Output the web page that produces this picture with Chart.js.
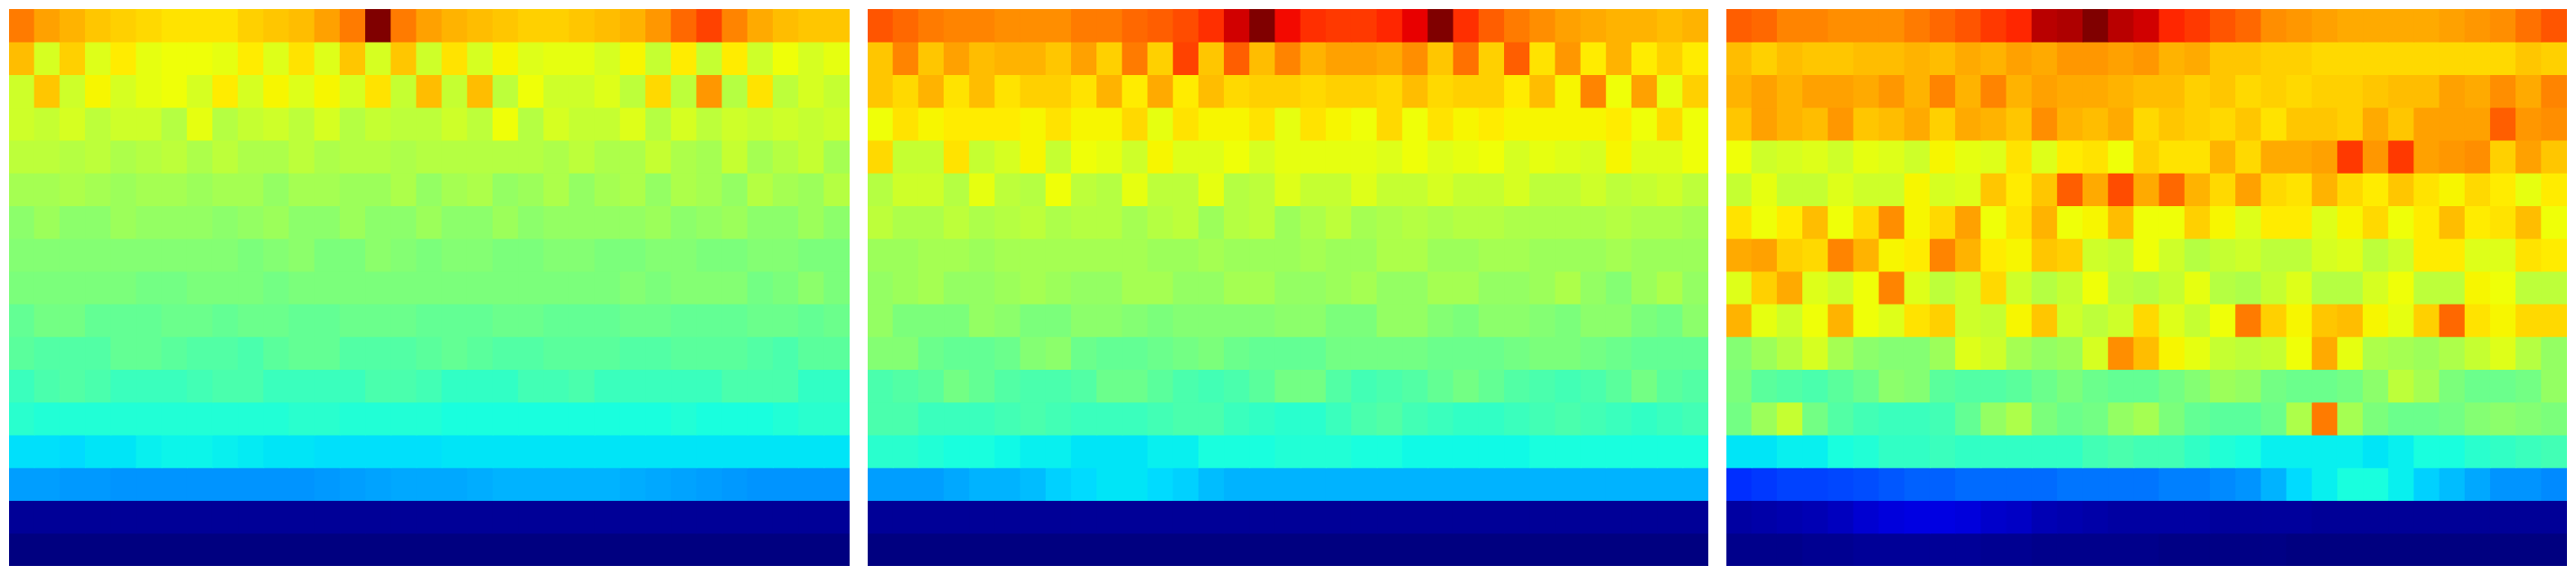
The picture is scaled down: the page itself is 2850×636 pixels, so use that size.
<!DOCTYPE html>
<html><head><meta charset="utf-8">
<script src="https://cdn.jsdelivr.net/npm/chart.js@4"></script>
<style>
html,body{margin:0;padding:0;background:#fff;width:2850px;height:636px;overflow:hidden}
canvas{position:absolute;top:10px;display:block}
</style></head>
<body>
<canvas id="c1" width="930" height="616" style="left:10px"></canvas>
<canvas id="c2" width="930" height="616" style="left:960px"></canvas>
<canvas id="c3" width="930" height="616" style="left:1910px"></canvas>
<script>
const panel1 = [
[78,74,72,70,69,68,67,67,67,69,70,71,74,78,100,78,74,72,71,70,69,69,70,71,72,75,80,84,77,73,71,70,70],
[71,61,69,62,66,63,64,64,63,66,62,67,62,70,61,70,60,67,61,65,62,63,63,61,65,59,66,59,66,60,64,61,63],
[60,70,60,65,61,63,64,61,66,61,65,62,65,61,67,59,71,59,71,58,64,60,60,62,58,68,58,75,57,67,58,61,59],
[60,59,61,58,60,60,57,63,57,59,60,58,61,57,59,58,58,60,58,64,57,61,59,59,62,57,61,58,60,59,60,59,60],
[58,58,57,58,56,57,58,56,58,56,56,58,56,57,57,56,57,57,57,57,57,56,58,56,56,59,56,55,59,55,57,59,55],
[55,55,56,55,54,55,55,54,55,55,53,55,55,54,54,56,53,55,56,53,54,56,53,55,56,53,56,55,53,57,55,54,57],
[52,54,52,52,54,53,53,53,52,53,54,52,52,54,52,52,54,52,52,54,52,53,53,53,53,54,52,53,54,52,52,54,52],
[51,51,51,51,51,51,51,51,51,50,51,52,50,50,52,51,50,51,51,50,50,51,51,50,50,51,51,50,50,51,51,50,50],
[50,50,50,50,50,49,49,50,50,50,49,50,50,50,50,50,50,50,50,50,50,50,50,50,51,50,51,51,51,49,50,52,50],
[47,49,49,47,47,47,48,48,47,48,48,47,47,48,48,48,47,47,47,48,48,47,47,47,48,48,47,47,47,48,48,47,48],
[46,45,45,45,47,47,46,45,45,44,46,47,47,45,45,45,46,47,46,45,45,46,46,46,45,45,46,46,46,45,44,46,46],
[42,44,45,44,42,42,42,43,44,44,42,42,42,42,44,44,43,41,41,41,43,43,44,42,42,42,42,42,44,44,44,41,41],
[40,39,39,39,39,39,39,39,39,39,39,40,40,39,39,39,39,38,38,38,38,38,38,38,38,38,39,38,38,38,39,40,40],
[34.5,34.5,34,35,35,36,36.5,36.5,36,35.5,35,35,34.5,34.5,34.5,34.5,34.5,35,35,35,35,35,35,35,35,35,35,35,35,35,35,35,35],
[28,28,27.5,27.5,27,27,27,27,27,27,27,27,27.5,28,28.5,29,29,29,29.5,30,30,30,30,30,29.5,29,28.5,28,27.5,27,27,27,27],
[2,2,2,2,2,2,2,2,2,2,2,2,2,2,2,2,2,2,2,2,2,2,2,2,2,2,2,2,2,2,2,2,2],
[0,0,0,0,0,0,0,0,0,0,0,0,0,0,0,0,0,0,0,0,0,0,0,0,0,0,0,0,0,0,0,0,0]
];
const panel2 = [
[82,80,78,77,77,76,76,76,78,78,80,81,83,86,93,100,90,86,85,85,87,91,100,86,81,78,76,74,73,72,72,71,72],
[70,77,70,74,71,72,72,70,74,69,78,69,84,70,81,71,77,72,74,74,73,76,70,79,69,81,67,75,66,72,66,69,66],
[70,68,72,67,71,67,69,69,67,72,66,73,66,71,68,69,69,68,69,69,68,71,68,69,69,66,71,65,77,64,74,63,69],
[64,67,65,66,66,66,65,67,65,65,68,63,67,65,65,67,63,67,65,64,68,64,67,65,66,65,65,65,65,66,64,68,64],
[68,59,59,67,59,61,65,59,64,63,60,65,62,62,64,61,63,63,63,63,62,64,62,63,64,61,63,62,61,65,62,62,64],
[57,60,60,57,63,58,57,64,58,57,63,58,58,63,57,58,62,59,59,62,59,59,61,59,59,61,58,58,60,58,59,60,58],
[58,56,56,58,56,57,58,56,57,57,55,57,58,54,57,58,54,56,58,55,56,57,56,57,57,56,56,56,56,57,56,56,55],
[54,54,55,55,54,55,55,55,55,55,55,54,54,55,54,54,54,55,54,54,56,56,54,54,55,55,54,54,54,55,54,54,54],
[53,54,55,53,53,54,55,54,53,53,55,55,53,53,55,55,53,53,54,55,53,53,55,55,53,53,54,56,53,51,54,56,53],
[53,50,50,50,53,52,50,50,52,52,51,50,51,51,51,51,52,52,50,50,53,53,51,50,52,52,51,50,52,52,50,49,52],
[51,51,48,47,47,48,51,52,48,47,47,48,49,50,48,47,47,47,49,49,49,49,48,48,48,49,50,50,49,48,47,47,47],
[44,45,46,49,47,45,44,44,45,48,48,46,44,43,44,46,49,49,45,43,44,45,47,49,47,45,44,43,44,46,49,46,45],
[44,44,42,42,42,43,44,43,42,42,42,43,44,44,42,41,40,40,42,44,45,43,42,41,41,42,43,44,43,42,41,42,43],
[40,40,39,38,38,37,36,36,35,35,35,36,36,38,38,38,39,39,39,38,38,37,37,37,37,37,38,38,38,38,38,38,38],
[28,28,28,29,30,30,31,33,34,35,35,34,33,31,30,30,30,30,30,30,30,30,30,30,30,30,30,30,30,30,30,30,30],
[2,2,2,2,2,2,2,2,2,2,2,2,2,2,2,2,2,2,2,2,2,2,2,2,2,2,2,2,2,2,2,2,2],
[0,0,0,0,0,0,0,0,0,0,0,0,0,0,0,0,0,0,0,0,0,0,0,0,0,0,0,0,0,0,0,0,0]
];
const panel3 = [
[81,80,77,77,76,76,76,78,80,82,85,87,95,96,100,95,93,87,85,82,80,76,75,74,73,73,73,73,74,75,76,79,82],
[71,69,71,70,70,71,71,72,71,73,72,74,73,75,75,74,75,72,73,70,70,69,69,68,68,68,68,68,68,68,68,70,69],
[72,74,72,74,74,73,75,72,77,72,77,72,74,73,73,72,71,71,69,70,68,69,68,69,69,70,71,71,74,73,76,73,77],
[70,74,72,71,75,70,71,73,69,73,72,70,76,72,71,73,68,70,69,68,70,67,70,70,69,73,70,74,74,74,81,75,76],
[64,60,61,62,60,63,62,60,65,63,62,67,62,66,67,64,69,67,67,72,68,73,73,74,85,75,85,74,75,76,69,74,70],
[59,63,59,59,62,60,60,65,61,62,70,66,70,81,73,83,73,80,72,68,74,68,67,72,68,66,70,67,65,68,66,63,66],
[67,64,66,71,64,68,76,65,68,74,64,67,72,64,65,71,64,64,69,65,62,66,66,62,65,68,64,66,71,66,67,71,64],
[73,74,69,68,77,72,65,66,77,72,66,65,70,69,60,59,64,60,57,59,60,58,58,61,62,58,60,66,66,62,62,67,66],
[62,69,73,62,60,64,77,62,58,60,68,60,57,59,64,58,57,59,63,57,56,59,62,57,57,61,64,58,58,65,64,58,58],
[72,63,60,64,72,64,62,67,69,60,59,65,70,60,58,60,68,62,59,64,78,69,65,70,71,65,63,69,80,67,65,68,68],
[51,54,57,61,55,52,51,51,54,62,60,55,53,54,61,76,71,65,63,59,58,59,64,73,63,56,55,54,56,59,62,57,53],
[50,46,45,44,46,48,52,51,46,45,45,46,48,50,48,47,47,49,51,54,53,49,48,48,49,52,58,55,50,48,48,49,53],
[49,54,59,49,45,43,42,42,43,47,53,56,50,48,49,53,55,50,47,46,46,48,56,78,55,50,48,48,49,51,52,51,50],
[35,35,36,36,38,39,41,41,42,41,41,41,41,41,43,44,43,43,41,39,38,36,36,36,36,35,36,38,38,40,41,42,43],
[17,18,19,19,19.5,20,21,22,22,23,23,23,23,24,24,24,24,25,25,26,27,30,34,36,38,38,36,33,31,29,27,27,26],
[3,3.5,4,4.5,5.5,7,8,8.5,8.5,8,6.5,6,4.5,4,3.5,3,3,3,3,2.5,2.5,2.5,2.5,2,2,2,2,2,2,2,2,2,2],
[1,1,1,1.5,1.5,2,2,2,2,2,1.5,1.5,1,1,1,1,1,0.5,0.5,0.5,0.5,0.5,0,0,0,0,0,0,0,0,0,0,0]
];
const panels = [['c1', panel1], ['c2', panel2], ['c3', panel3]];
const columns = panel1[0].map((_, i) => i + 1);

// jet colormap, anchor tables in fractions of the value range
const jetR = [[0,0],[.35,0],[.66,1],[.89,1],[1,.5]];
const jetG = [[0,0],[.125,0],[.375,1],[.64,1],[.91,0],[1,0]];
const jetB = [[0,.5],[.11,1],[.34,1],[.65,0],[1,0]];
function seg(t, s) {
  for (let i = 1; i < s.length; i++) if (t <= s[i][0]) {
    const [a, va] = s[i-1], [b, vb] = s[i];
    return va + (vb - va) * (t - a) / (b - a);
  }
  return s[s.length-1][1];
}
function jet(v) {
  const t = Math.max(0, Math.min(1, v / 100));
  return `rgb(${Math.round(seg(t,jetR)*255)},${Math.round(seg(t,jetG)*255)},${Math.round(seg(t,jetB)*255)})`;
}

for (const [id, rows] of panels) {
  const canvas = document.getElementById(id);
  new Chart(canvas, {
    type: 'bar',
    data: {
      labels: columns,
      datasets: rows.map((row, r) => ({
        data: row.map(() => [r, r + 1]),
        backgroundColor: row.map(jet),
        borderWidth: 0,
        barPercentage: 1,
        categoryPercentage: 1,
        grouped: false,
        inflateAmount: 0.5
      }))
    },
    options: {
      responsive: false,
      animation: false,
      devicePixelRatio: 1,
      layout: { padding: 0 },
      plugins: { legend: { display: false }, tooltip: { enabled: false }, title: { display: false } },
      scales: {
        x: { display: false, offset: true, grid: { display: false } },
        y: { display: false, reverse: true, min: 0, max: rows.length, grid: { display: false } }
      }
    }
  });
}
</script>
</body></html>
